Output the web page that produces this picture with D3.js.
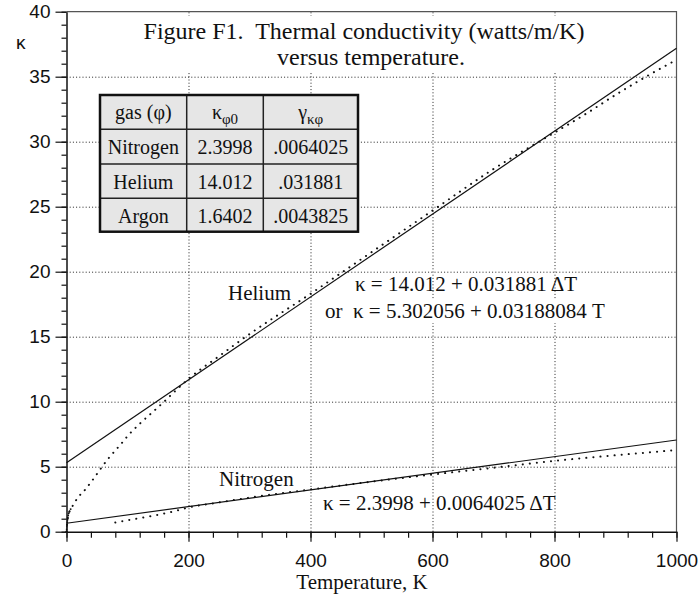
<!DOCTYPE html>
<html>
<head>
<meta charset="utf-8">
<script src="https://cdn.jsdelivr.net/npm/d3@7"></script>
<style>
  body { margin: 0; background: #fff; }
  svg { display: block; }
  .grid line { stroke: #222; stroke-width: 1; stroke-dasharray: 1,2.2; }
  .grid path { display: none; }
  .serif { font-family: "Liberation Serif", "Times New Roman", serif; fill: #111; }
</style>
</head>
<body>
<div id="chart"></div>
<script>
var heliumT = [0, 1, 3, 8, 14, 20, 30, 40, 50, 60, 70, 80, 90, 100, 120, 140, 160, 180, 200, 250, 300, 400, 500, 600, 700, 800, 850, 900, 950, 1000]
var heliumK = [0, 0.6, 1.28, 1.8, 2.3, 2.7, 3.2, 3.8, 4.45, 5.1, 5.7, 6.25, 6.78, 7.35, 8.3, 9.15, 10.0, 10.9, 11.75, 13.5, 15.2, 18.3, 21.5, 24.7, 27.9, 30.7, 32.1, 33.6, 35.0, 36.3]

var nitrogenT = [80, 100, 125, 150, 175, 200, 250, 300, 400, 500, 600, 700, 800, 900, 1000]
var nitrogenK = [0.70, 0.88, 1.08, 1.30, 1.55, 1.86, 2.25, 2.62, 3.25, 3.85, 4.40, 4.92, 5.45, 5.88, 6.28]

// linear fits (solid), end points
var heliumFitT = [0, 1000]
var heliumFitK = [5.302, 37.183]
var nitrogenFitT = [0, 1000]
var nitrogenFitK = [0.651, 7.054]

var xMajor = [0, 200, 400, 600, 800, 1000]
var yMajor = [0, 5, 10, 15, 20, 25, 30, 35, 40]

var tableHead = [["gas (φ)", ""], ["κ", "φ0"], ["γ", "κφ"]]
var tableRows = [
  ["Nitrogen", "2.3998", ".0064025"],
  ["Helium", "14.012", ".031881"],
  ["Argon", "1.6402", ".0043825"]
]

var width = 700, height = 596
var x0 = 66.5, x1 = 676.5, y0 = 531.7, y1 = 11.7

var svg = d3.select("#chart").append("svg")
    .attr("width", width)
    .attr("height", height)

var x = d3.scaleLinear().domain([0, 1000]).range([x0, x1])
var y = d3.scaleLinear().domain([0, 40]).range([y0, y1])

// grid
svg.append("g").attr("class", "grid")
   .attr("transform", "translate(0," + y0 + ")")
   .call(d3.axisBottom(x).tickValues([200, 400, 600, 800]).tickSize(-(y0 - y1)).tickFormat(""))
svg.append("g").attr("class", "grid")
   .attr("transform", "translate(" + x0 + ",0)")
   .call(d3.axisLeft(y).tickValues([5, 10, 15, 20, 25, 30, 35]).tickSize(-(x1 - x0)).tickFormat(""))

// white boxes behind title and 2nd equation
svg.append("rect").attr("x", 125).attr("y", 16).attr("width", 490).attr("height", 57).attr("fill", "#fff")
svg.append("rect").attr("x", 318).attr("y", 299).attr("width", 296).attr("height", 24).attr("fill", "#fff")

// frame
svg.append("path")
   .attr("d", "M" + x0 + "," + y1 + "H" + x1 + "V" + y0)
   .attr("fill", "none").attr("stroke", "#555").attr("stroke-width", 1.2)

// solid fits
var line = d3.line()
    .x(function(d) { return x(d[0]) })
    .y(function(d) { return y(d[1]) })

svg.append("path")
   .attr("d", line(d3.zip(heliumFitT, heliumFitK)))
   .attr("fill", "none").attr("stroke", "#111").attr("stroke-width", 1.2)
svg.append("path")
   .attr("d", line(d3.zip(nitrogenFitT, nitrogenFitK)))
   .attr("fill", "none").attr("stroke", "#111").attr("stroke-width", 1.2)

// dotted data
var curve = d3.line()
    .x(function(d) { return x(d[0]) })
    .y(function(d) { return y(d[1]) })
    .curve(d3.curveMonotoneX)

svg.append("path")
   .attr("d", curve(d3.zip(heliumT, heliumK)))
   .attr("fill", "none").attr("stroke", "#111").attr("stroke-width", 2)
   .attr("stroke-linecap", "round").attr("stroke-dasharray", "0.1,6.6")
svg.append("path")
   .attr("d", curve(d3.zip(heliumT.slice(0, 4), heliumK.slice(0, 4))))
   .attr("fill", "none").attr("stroke", "#111").attr("stroke-width", 1.8)
   .attr("stroke-linecap", "round").attr("stroke-dasharray", "0.1,2.2")
svg.append("path")
   .attr("d", curve(d3.zip(nitrogenT, nitrogenK)))
   .attr("fill", "none").attr("stroke", "#111").attr("stroke-width", 2)
   .attr("stroke-linecap", "round").attr("stroke-dasharray", "0.1,7")

// axes
var yAxis = svg.append("g")
   .attr("transform", "translate(" + x0 + ",0)")
   .call(d3.axisLeft(y).tickValues(yMajor).tickSize(11).tickSizeOuter(0).tickPadding(5).tickFormat(d3.format("d")))
var yMinor = svg.append("g")
   .attr("transform", "translate(" + x0 + ",0)")
   .call(d3.axisLeft(y).tickValues(d3.range(0, 41, 1)).tickSize(5).tickFormat(""))
yMinor.select(".domain").remove()

var xAxis = svg.append("g")
   .attr("transform", "translate(0," + y0 + ")")
   .call(d3.axisBottom(x).tickValues(xMajor).tickSize(10).tickSizeOuter(0).tickPadding(12).tickFormat(d3.format("d")))
var xMinor = svg.append("g")
   .attr("transform", "translate(0," + y0 + ")")
   .call(d3.axisBottom(x).tickValues(d3.range(0, 1001, 40)).tickSize(6).tickFormat(""))
xMinor.select(".domain").remove()

svg.selectAll(".tick line").attr("stroke", "#111").attr("stroke-width", 1.2)
svg.selectAll(".domain").attr("stroke", "#111").attr("stroke-width", 1.5)
svg.selectAll(".tick text")
   .style("font-family", "'Liberation Sans', Arial, sans-serif")
   .style("font-size", "19px")
   .attr("fill", "#111")

// axis titles
svg.append("text").attr("x", 16).attr("y", 49)
   .style("font-family", "'Liberation Sans', Arial, sans-serif").style("font-size", "19px")
   .attr("fill", "#111").text("κ")
svg.append("text").attr("class", "serif").attr("x", 362).attr("y", 589)
   .attr("text-anchor", "middle").style("font-size", "21px").text("Temperature, K")

// title
svg.append("text").attr("class", "serif").attr("x", 364).attr("y", 39)
   .attr("text-anchor", "middle").style("font-size", "24px").style("white-space", "pre")
   .text("Figure F1.  Thermal conductivity (watts/m/K)")
svg.append("text").attr("class", "serif").attr("x", 371).attr("y", 65)
   .attr("text-anchor", "middle").style("font-size", "24px")
   .text("versus temperature.")

// annotations
svg.append("text").attr("class", "serif").attr("x", 228).attr("y", 300)
   .style("font-size", "21px").text("Helium")
svg.append("text").attr("class", "serif").attr("x", 219).attr("y", 486)
   .style("font-size", "21px").text("Nitrogen")
svg.append("text").attr("class", "serif").attr("x", 355).attr("y", 291)
   .style("font-size", "21px").style("white-space", "pre").text("κ = 14.012 + 0.031881 ΔT")
svg.append("text").attr("class", "serif").attr("x", 325).attr("y", 318)
   .style("font-size", "21px").style("white-space", "pre").text("or  κ = 5.302056 + 0.03188084 T")
svg.append("text").attr("class", "serif").attr("x", 323).attr("y", 510)
   .style("font-size", "21px").style("white-space", "pre").text("κ = 2.3998 + 0.0064025 ΔT")

// table
var colX = [100, 186.7, 263.3, 358]
var rowY = [95, 129.3, 164, 198.3, 231.7]
var table = svg.append("g")

table.append("rect")
   .attr("x", colX[0]).attr("y", rowY[0])
   .attr("width", colX[3] - colX[0]).attr("height", rowY[4] - rowY[0])
   .attr("fill", "#e6e6e6")

table.selectAll(".vline").data(colX.slice(1, 3)).enter().append("line")
   .attr("x1", function(d) { return d }).attr("x2", function(d) { return d })
   .attr("y1", rowY[0]).attr("y2", rowY[4])
   .attr("stroke", "#222").attr("stroke-width", 1.5)
table.selectAll(".hline").data(rowY.slice(1, 4)).enter().append("line")
   .attr("y1", function(d) { return d }).attr("y2", function(d) { return d })
   .attr("x1", colX[0]).attr("x2", colX[3])
   .attr("stroke", "#222").attr("stroke-width", 1.5)
table.append("rect")
   .attr("x", colX[0]).attr("y", rowY[0])
   .attr("width", colX[3] - colX[0]).attr("height", rowY[4] - rowY[0])
   .attr("fill", "none").attr("stroke", "#111").attr("stroke-width", 2.5)

var head = table.selectAll(".head").data(tableHead).enter().append("text")
   .attr("class", "serif")
   .attr("x", function(d, i) { return (colX[i] + colX[i + 1]) / 2 })
   .attr("y", rowY[0] + 24)
   .attr("text-anchor", "middle")
   .style("font-size", "20px")
head.append("tspan").text(function(d) { return d[0] })
head.append("tspan").attr("dy", 5).style("font-size", "15px").text(function(d) { return d[1] })

tableRows.forEach(function(row, r) {
  table.selectAll(".row" + r).data(row).enter().append("text")
     .attr("class", "serif")
     .attr("x", function(d, i) { return (colX[i] + colX[i + 1]) / 2 })
     .attr("y", rowY[r + 1] + 24.5)
     .attr("text-anchor", "middle")
     .style("font-size", "20px")
     .text(function(d) { return d })
})
</script>
</body>
</html>
